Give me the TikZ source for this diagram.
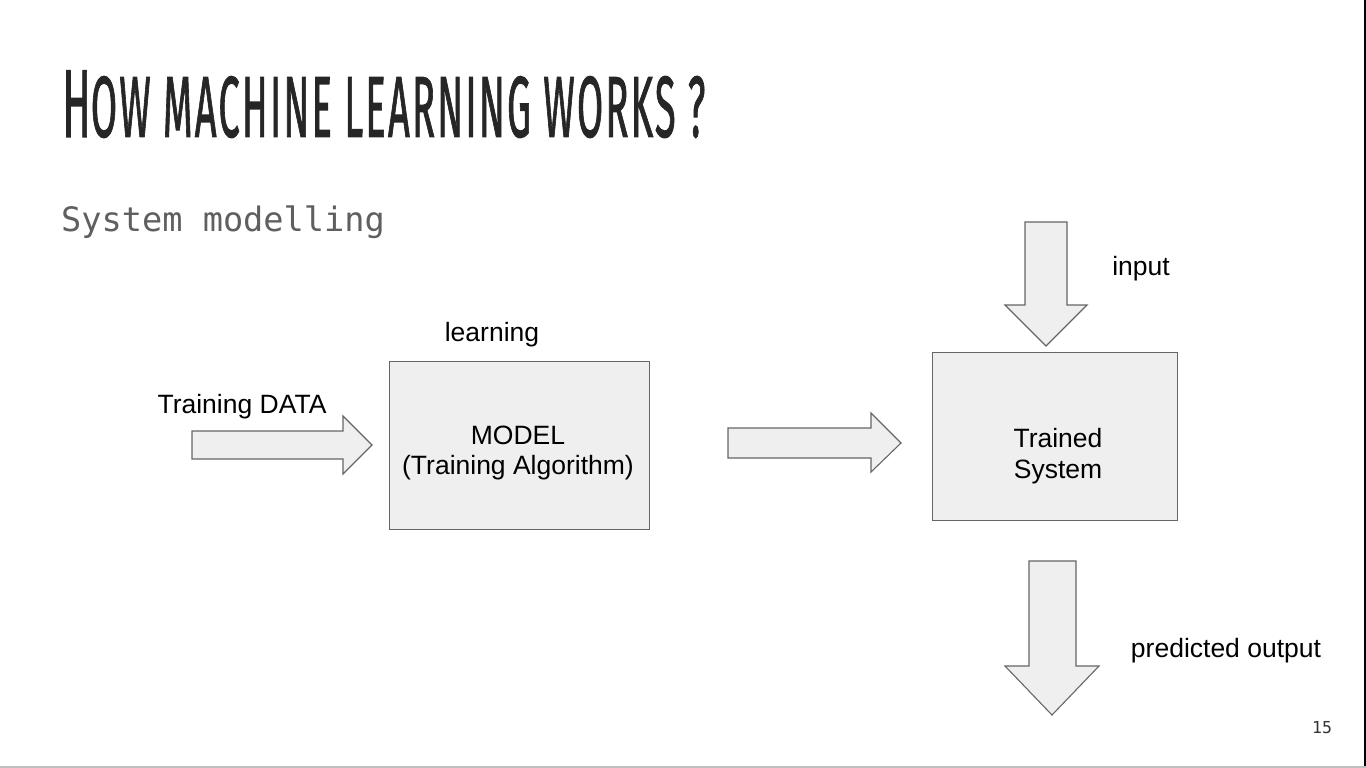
\documentclass[tikz,border=0pt]{standalone}
\usepackage{fontspec}
\setmainfont{Liberation Sans}
\newfontfamily\titlefont[LetterSpace=6,FakeBold=1.6]{Fira Sans}
\newfontfamily\codefont{DejaVu Sans Mono}
\definecolor{boxfill}{HTML}{EFEFEF}
\definecolor{boxline}{HTML}{666666}
\definecolor{subgray}{HTML}{5F5F5F}
\definecolor{titlegray}{HTML}{262626}
\begin{document}
\begin{tikzpicture}[x=1pt,y=-1pt,
  shape style/.style={fill=boxfill,draw=boxline,line width=1.1pt,line join=miter},
  blockbox/.style={shape style,rectangle,inner sep=0pt,anchor=north west},
  blockarrow/.style={shape style},
  lbl/.style={font=\fontsize{26.5}{31}\selectfont,inner sep=0pt,anchor=base,text=black},
]
\useasboundingbox (0,0) rectangle (1366,768);
\fill[white] (0,0) rectangle (1366,768);

% slide frame edges
\draw[black,line width=2pt] (1365,0) -- (1365,768);
\draw[black!25,line width=1.5pt] (0,767) -- (1366,767);

% title
\node[anchor=south west,inner sep=0pt,text=titlegray] (title) at (62,138)
  {\resizebox{643pt}{66pt}{\titlefont
   H{\fontsize{9}{9}\selectfont OW MACHINE LEARNING WORKS ?}}};

% subtitle
\node[anchor=base west,inner sep=0pt,text=subgray,
  font=\codefont\fontsize{33.6}{36}\selectfont] (sub) at (61,231) {System modelling};

% boxes
\node[blockbox,minimum width=260pt,minimum height=168pt] (model) at (389,361) {};
\node[blockbox,minimum width=245pt,minimum height=168pt] (trained) at (932,352) {};

% block arrows
\draw[blockarrow] (192,431) -- (343,431) -- (343,416) -- (372,445) -- (343,474)
  -- (343,459) -- (192,459) -- cycle;
\draw[blockarrow] (728,428) -- (871,428) -- (871,413) -- (901,443) -- (871,472)
  -- (871,458) -- (728,458) -- cycle;
\draw[blockarrow] (1025,222) -- (1067,222) -- (1067,305) -- (1087,305) -- (1046,346)
  -- (1005,305) -- (1025,305) -- cycle;
\draw[blockarrow] (1029,561) -- (1076,561) -- (1076,666) -- (1099,666) -- (1052,715)
  -- (1005,666) -- (1029,666) -- cycle;

% labels
\node[lbl] (learn) at (492,341) {learning};
\node[lbl] (tdata) at (242,413) {Training DATA};
\node[lbl] (m1) at (518,444) {MODEL};
\node[lbl] (m2) at (518,474) {(Training Algorithm)};
\node[lbl] (t1) at (1058,447) {Trained};
\node[lbl] (t2) at (1058,478) {System};
\node[lbl] (inp) at (1141,275) {input};
\node[lbl] (outp) at (1226,657) {predicted output};

% page number
\node[anchor=base,inner sep=0pt,text=black!80,
  font=\codefont\fontsize{16.5}{18}\selectfont] (pnum) at (1322,733) {15};
\end{tikzpicture}
\end{document}
